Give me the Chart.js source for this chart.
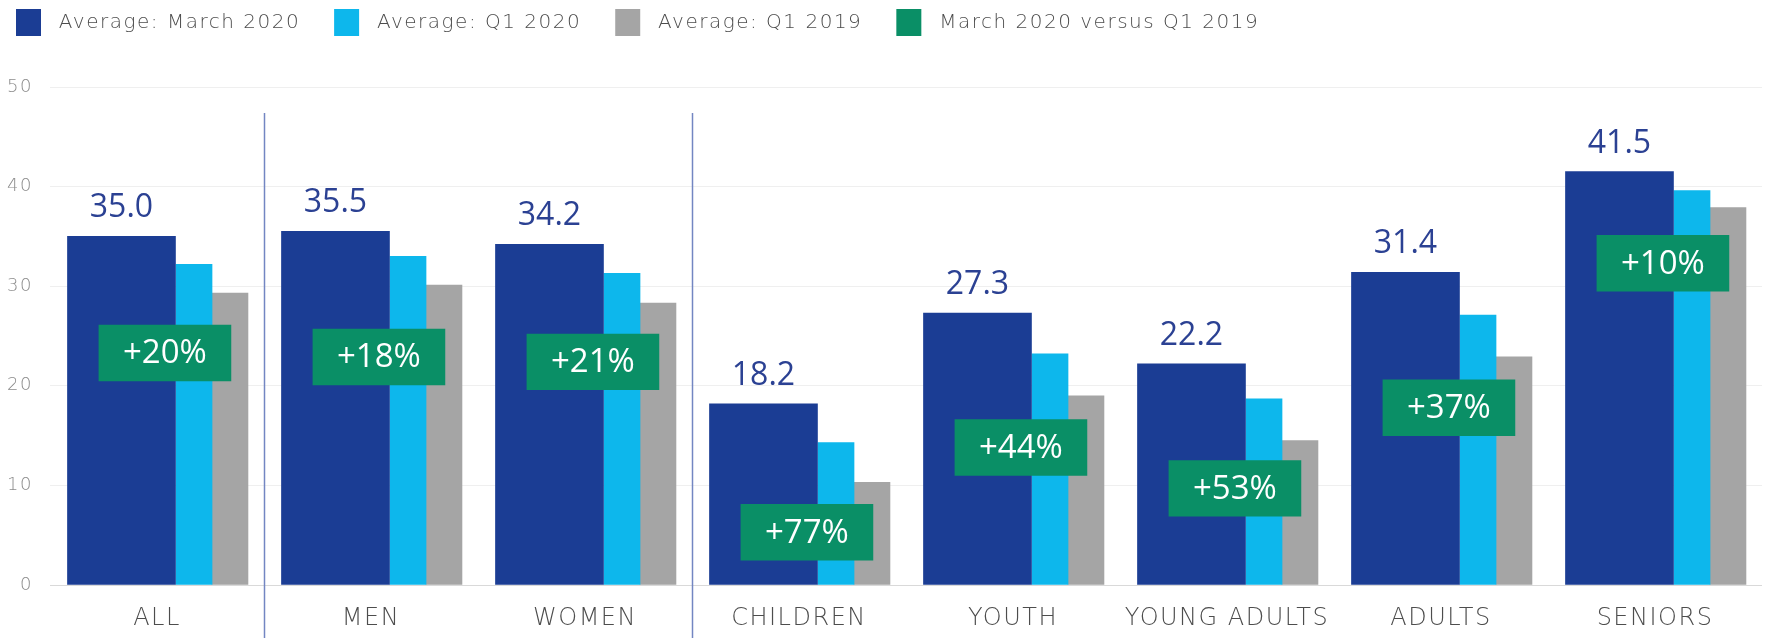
<!DOCTYPE html>
<html>
<head>
<meta charset="utf-8">
<title>Average by group</title>
<script src="https://cdn.jsdelivr.net/npm/chart.js@4.4.1/dist/chart.umd.min.js"></script>
<style>
  html, body { margin: 0; padding: 0; background: #fff; }
</style>
</head>
<body>
<canvas id="groupChart" width="1765" height="638"></canvas>
<script>
// data
const categories = ['ALL', 'MEN', 'WOMEN', 'CHILDREN', 'YOUTH', 'YOUNG ADULTS', 'ADULTS', 'SENIORS'];
const march2020 = [35.0, 35.5, 34.2, 18.2, 27.3, 22.2, 31.4, 41.5];
const q1_2020 = [32.2, 33.0, 31.3, 14.3, 23.2, 18.7, 27.1, 39.6];
const q1_2019 = [29.3, 30.1, 28.3, 10.3, 19.0, 14.5, 22.9, 37.9];
const changeLabels = ['+20%', '+18%', '+21%', '+77%', '+44%', '+53%', '+37%', '+10%'];
const changeBoxMid = [23.3, 22.9, 22.4, 5.3, 13.8, 9.7, 17.8, 32.3];
const yTicks = [0, 10, 20, 30, 40, 50];

const DARK = '#1b3d94';
const CYAN = '#0db7ec';
const GREY = '#a5a5a5';
const GREEN = '#0a8f66';
const LIGHT_FONT = "'DejaVu Sans', sans-serif";

Chart.defaults.font.family = "'Open Sans', sans-serif";

// each series sits on its own hidden linear axis, shifted by a fraction of a category
function shiftedAxis(shift) {
    return {
        type: 'linear',
        display: false,
        offset: false,
        min: -0.5 - shift,
        max: categories.length - 0.5 - shift,
        ticks: { stepSize: 1 },
        afterFit: (scale) => { scale.height = 0; }
    };
}

const points = (arr) => arr.map((v, i) => ({ x: i, y: v }));

// bar labels, the green box text and the group separators
const labelPlugin = {
    id: 'labels',
    beforeLayout(chart) {
        // wide, airy axis/legend lettering
        chart.ctx.letterSpacing = '1.5px';
        const lg = chart.legend;
        if (lg && !lg._fitPatched) {
            const fit = lg.fit.bind(lg);
            lg.fit = function () { fit(); this.height = 112; };
            lg._fitPatched = true;
        }
    },
    beforeDraw(chart) {
        chart.ctx.letterSpacing = '1.5px';
    },
    afterDraw(chart) {
        const ctx = chart.ctx;
        const x = chart.scales.x;
        const area = chart.chartArea;
        ctx.save();
        ctx.letterSpacing = '0px';

        // separators after ALL and after WOMEN
        ctx.strokeStyle = '#7386c2';
        ctx.lineWidth = 1.5;
        [0, 2].forEach(i => {
            const sx = Math.round((x.getPixelForValue(i) + x.getPixelForValue(i + 1)) / 2) + 0.5;
            ctx.beginPath();
            ctx.moveTo(sx, area.top + 26);
            ctx.lineTo(sx, chart.height);
            ctx.stroke();
        });

        // values above the March 2020 bars
        ctx.fillStyle = '#2b4193';
        ctx.font = "32px 'Open Sans', sans-serif";
        ctx.textAlign = 'center';
        ctx.textBaseline = 'alphabetic';
        chart.getDatasetMeta(0).data.forEach((el, i) => {
            ctx.fillText(march2020[i].toFixed(1), el.x, el.y - 19);
        });

        // text inside the green boxes
        ctx.fillStyle = '#ffffff';
        ctx.font = "33px 'Open Sans', sans-serif";
        ctx.textBaseline = 'middle';
        chart.getDatasetMeta(3).data.forEach((el, i) => {
            ctx.fillText(changeLabels[i], el.x, (el.y + el.base) / 2 + 1);
        });
        ctx.restore();
    }
};

const ctx = document.getElementById('groupChart').getContext('2d');
new Chart(ctx, {
    type: 'bar',
    data: {
        labels: categories,
        datasets: [{
            label: 'Average: March 2020',
            data: points(march2020),
            xAxisID: 'xDark',
            backgroundColor: DARK,
            barThickness: 108,
            grouped: false,
            order: 1
        }, {
            label: 'Average: Q1 2020',
            data: points(q1_2020),
            xAxisID: 'xCyan',
            backgroundColor: CYAN,
            barThickness: 36,
            grouped: false,
            order: 1
        }, {
            label: 'Average: Q1 2019',
            data: points(q1_2019),
            xAxisID: 'xGrey',
            backgroundColor: GREY,
            barThickness: 36,
            grouped: false,
            order: 1
        }, {
            label: 'March 2020 versus Q1 2019',
            data: changeBoxMid.map((m, i) => ({ x: i, y: [m - 2.8, m + 2.8] })),
            xAxisID: 'xBox',
            backgroundColor: GREEN,
            barThickness: 132,
            grouped: false,
            order: 0
        }]
    },
    options: {
        responsive: false,
        animation: false,
        events: [],
        devicePixelRatio: 1,
        layout: { padding: { left: -18, right: 3, top: -25, bottom: 8 } },
        plugins: {
            legend: {
                position: 'top',
                align: 'start',
                labels: {
                    boxWidth: 25,
                    boxHeight: 27,
                    padding: 34,
                    color: '#4d4d4d',
                    font: { family: LIGHT_FONT, size: 20, weight: 200 },
                    sort: (a, b) => a.datasetIndex - b.datasetIndex,
                    generateLabels: (chart) =>
                        Chart.defaults.plugins.legend.labels.generateLabels(chart)
                            .map(item => ({ ...item, text: ' ' + item.text, lineWidth: 0 }))
                }
            },
            tooltip: { enabled: false }
        },
        scales: {
            x: {
                type: 'category',
                afterFit: (scale) => { scale.height = 45; },
                grid: { display: false, drawTicks: false },
                border: { display: false },
                ticks: {
                    color: '#4d4d4d',
                    font: { family: LIGHT_FONT, size: 24, weight: 200 },
                    padding: 19
                }
            },
            xDark: shiftedAxis(-0.166),
            xCyan: shiftedAxis(0.173),
            xGrey: shiftedAxis(0.341),
            xBox: shiftedAxis(0.037),
            y: {
                min: yTicks[0],
                max: yTicks[yTicks.length - 1],
                afterFit: (scale) => { scale.width = 68; },
                grid: {
                    drawTicks: false,
                    color: (c) => c.tick && c.tick.value === 0 ? '#d9d9d9' : '#efefef'
                },
                border: { display: false },
                ticks: {
                    stepSize: yTicks[1] - yTicks[0],
                    padding: 17,
                    color: '#8c8c8c',
                    font: { family: LIGHT_FONT, size: 18, weight: 200 }
                }
            }
        }
    },
    plugins: [labelPlugin]
});
</script>
</body>
</html>
